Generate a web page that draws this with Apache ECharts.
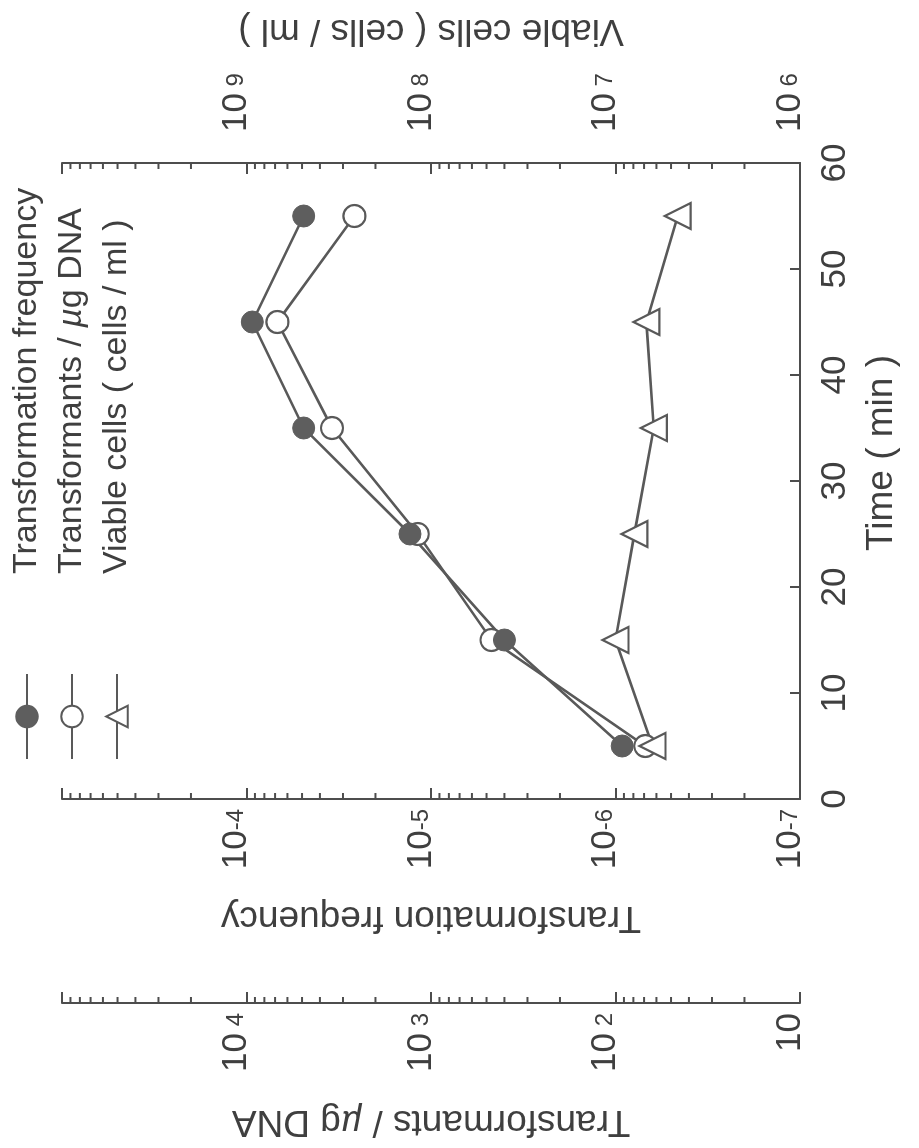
<!DOCTYPE html>
<html>
<head>
<meta charset="utf-8">
<title>Transformation time course</title>
<script src="https://cdn.jsdelivr.net/npm/echarts@6/dist/echarts.min.js"></script>
<style>
  html, body { margin: 0; padding: 0; background: #fff; overflow: hidden; }
  #page { position: relative; width: 919px; height: 1148px; overflow: hidden; }
  /* the figure is printed sideways: draw it upright, then turn it a quarter left */
  #chart {
    position: absolute; left: 0; top: 0;
    width: 1148px; height: 919px;
    transform-origin: 0 0;
    transform: translateY(1148px) rotate(-90deg);
  }
</style>
</head>
<body>
<div id="page"><div id="chart"></div></div>
<script>
// values
const times = [5, 15, 25, 35, 45, 55];
const transFreq = [9.2e-7, 4.0e-6, 1.3e-5, 4.9e-5, 9.3e-5, 4.9e-5];
const transPerUg = [69, 470, 1180, 3440, 6800, 2600];
const viableCells = [6.3e6, 1.0e7, 7.9e6, 6.2e6, 6.8e6, 4.6e6];

const seriesNames = [
  "Transformation frequency",
  "Transformants / \u00b5g DNA",
  "Viable cells ( cells / ml )",
];

// decade ranges (exponents) of the three log axes
const freqRange = [-7, -3];
const perUgRange = [1, 5];
const viableRange = [6, 10];

const FONT = "'Liberation Sans', Arial, Helvetica, sans-serif";
const TEXT = "#3f3f3f";
const AXIS = "#4d4d4d";
const LINE = "#595959";
const PER_UG_OFFSET = 204;
const MINOR_LEN = 6;

const chart = echarts.init(document.getElementById("chart"));

// the micro sign is set in italics in the figure
function italicMu(s) {
  return s.replace("\u00b5", "{i|\u00b5}");
}

function expLabel(top) {
  return function (v) {
    const e = Math.round(Math.log10(v));
    if (e === top) return "";
    if (e === 1) return "{b|10}";
    return "{b|10}{s|" + (e < 0 ? "-" + -e : " " + e) + "}";
  };
}

const labelRich = {
  b: { fontSize: 35, lineHeight: 20, fontFamily: FONT, color: TEXT },
  s: { fontSize: 24, lineHeight: 20, fontFamily: FONT, color: TEXT },
};

function logAxis(range, position, offset, name, nameGap, margin) {
  return {
    type: "log",
    logBase: 10,
    min: Math.pow(10, range[0]),
    max: Math.pow(10, range[1]),
    splitNumber: range[1] - range[0],
    position: position,
    offset: offset,
    name: italicMu(name),
    nameLocation: "middle",
    nameRotate: 90,
    nameGap: nameGap,
    nameMoveOverlap: false,
    nameTextStyle: {
      fontSize: 37,
      color: TEXT,
      fontFamily: FONT,
      rich: { i: { fontSize: 37, fontStyle: "italic", color: TEXT, fontFamily: FONT } },
    },
    axisLine: { show: true, onZero: false, lineStyle: { color: AXIS, width: 2 } },
    axisTick: { show: true, inside: true, length: 11, lineStyle: { color: AXIS, width: 2 } },
    splitLine: { show: false },
    axisLabel: {
      margin: margin,
      verticalAlign: "bottom",
      formatter: expLabel(range[1]),
      rich: labelRich,
    },
  };
}

function minorValues(range) {
  const out = [];
  for (let e = range[0]; e < range[1]; e++) {
    for (let k = 2; k <= 9; k++) out.push(k * Math.pow(10, e));
  }
  return out;
}

// short ticks at 2..9 of every decade, placed through the axis scale
function minorTicks(yIndex, range, atTime, shift, dir) {
  return {
    type: "custom",
    yAxisIndex: yIndex,
    silent: true,
    clip: false,
    data: minorValues(range).map((v) => [atTime, v]),
    encode: { x: 0, y: 1 },
    renderItem: function (params, api) {
      const p = api.coord([api.value(0), api.value(1)]);
      const x = p[0] - shift;
      return {
        type: "line",
        shape: { x1: x, y1: p[1], x2: x + dir * MINOR_LEN, y2: p[1] },
        style: { stroke: AXIS, lineWidth: 2 },
      };
    },
  };
}

function pairs(values) {
  return times.map((t, i) => [t, values[i]]);
}

const option = {
  animation: false,
  backgroundColor: "#fff",
  textStyle: { fontFamily: FONT },
  grid: { left: 345, right: 163, top: 62, bottom: 119, show: false },
  legend: {
    orient: "vertical",
    left: 383,
    top: 5,
    itemWidth: 85,
    itemHeight: 27,
    itemGap: 11,
    data: seriesNames,
    formatter: italicMu,
    textStyle: {
      fontSize: 34,
      lineHeight: 34,
      color: TEXT,
      fontFamily: FONT,
      padding: [0, 0, 0, 95],
      rich: { i: { fontSize: 34, lineHeight: 34, fontStyle: "italic", color: TEXT, fontFamily: FONT } },
    },
  },
  xAxis: {
    type: "value",
    min: 0,
    max: 60,
    interval: 10,
    name: "Time ( min )",
    nameLocation: "middle",
    nameGap: 63,
    nameMoveOverlap: false,
    nameTextStyle: { fontSize: 37, color: TEXT, fontFamily: FONT, padding: [0, 0, 0, 56] },
    axisLine: { show: true, onZero: false, lineStyle: { color: AXIS, width: 2 } },
    axisTick: { show: true, inside: true, length: 10, lineStyle: { color: AXIS, width: 2 } },
    splitLine: { show: false },
    axisLabel: { fontSize: 35, margin: 18, color: TEXT, fontFamily: FONT },
  },
  yAxis: [
    logAxis(freqRange, "left", 0, seriesNames[0], 100, 10),
    logAxis(perUgRange, "left", PER_UG_OFFSET, seriesNames[1], 100, 10),
    logAxis(viableRange, "right", 0, seriesNames[2], 114, 31),
  ],
  series: [
    {
      name: seriesNames[1],
      type: "line",
      yAxisIndex: 1,
      data: pairs(transPerUg),
      symbol: "circle",
      symbolSize: 22,
      itemStyle: { color: "#fff", borderColor: LINE, borderWidth: 2.2 },
      lineStyle: { color: LINE, width: 2.6 },
      emphasis: { disabled: true },
    },
    {
      name: seriesNames[0],
      type: "line",
      yAxisIndex: 0,
      data: pairs(transFreq),
      symbol: "circle",
      symbolSize: 22,
      itemStyle: { color: "#5e5e5e", borderColor: "#5e5e5e", borderWidth: 1 },
      lineStyle: { color: LINE, width: 2.6 },
      emphasis: { disabled: true },
    },
    {
      name: seriesNames[2],
      type: "line",
      yAxisIndex: 2,
      data: pairs(viableCells),
      symbol: "triangle",
      symbolSize: 26,
      itemStyle: { color: "#fff", borderColor: LINE, borderWidth: 2.2 },
      lineStyle: { color: LINE, width: 2.6 },
      emphasis: { disabled: true },
    },
    minorTicks(0, freqRange, 0, 0, 1),
    minorTicks(1, perUgRange, 0, PER_UG_OFFSET, 1),
    minorTicks(2, viableRange, 60, 0, -1),
  ],
};

chart.setOption(option);
</script>
</body>
</html>
